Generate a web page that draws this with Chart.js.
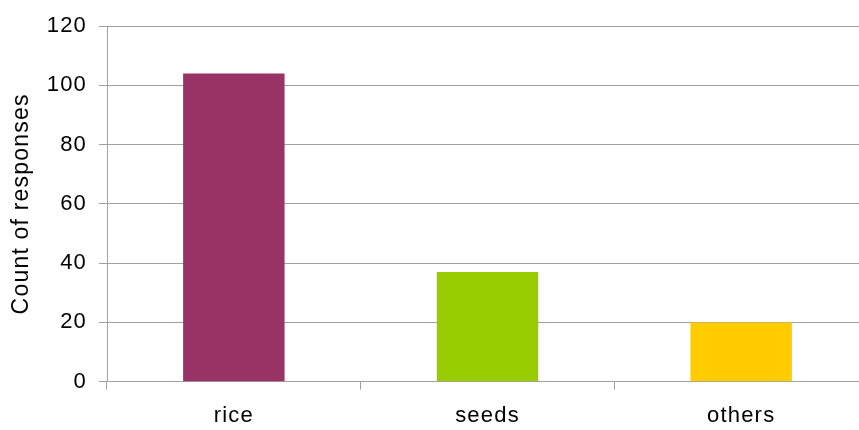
<!DOCTYPE html>
<html>
<head>
<meta charset="utf-8">
<title>Count of responses</title>
<script src="https://cdn.jsdelivr.net/npm/chart.js@4/dist/chart.umd.min.js"></script>
<style>
  html, body { margin: 0; padding: 0; background: #ffffff; overflow: hidden; }
  #wrap { width: 868px; height: 430px; }
</style>
</head>
<body>
<div id="wrap"><canvas id="chart" width="868" height="430"></canvas></div>
<script>
// Chart data
const categories = ['rice', 'seeds', 'others'];
const responseCounts = [104, 37, 20];
const barColors = ['#993366', '#99CC00', '#FFCC00'];
const yTicks = { min: 0, max: 120, step: 20 };
const yTitle = 'Count of responses';

const gridGrey = '#a0a0a0';
const fontFamily = '"Liberation Sans", Arial, sans-serif';

// Slightly widened letter spacing for all canvas text
const spacingPlugin = {
  id: 'letterSpacing',
  beforeUpdate(chart) { chart.ctx.letterSpacing = '1.2px'; },
  beforeLayout(chart) { chart.ctx.letterSpacing = '1.2px'; },
  beforeDraw(chart) { chart.ctx.letterSpacing = '1.2px'; }
};

new Chart(document.getElementById('chart'), {
  type: 'bar',
  data: {
    labels: categories,
    datasets: [{
      data: responseCounts,
      backgroundColor: barColors,
      borderWidth: 0,
      barPercentage: 0.4,
      categoryPercentage: 1.0
    }]
  },
  options: {
    responsive: false,
    animation: false,
    devicePixelRatio: 1,
    layout: { padding: { top: 26, right: 0, bottom: 0, left: 0 } },
    plugins: {
      legend: { display: false },
      tooltip: { enabled: false }
    },
    scales: {
      x: {
        offset: true,
        grid: {
          offset: true,
          drawOnChartArea: false,
          drawTicks: true,
          tickLength: 8,
          color: gridGrey,
          lineWidth: 1
        },
        border: { color: gridGrey, width: 1 },
        ticks: {
          color: '#000000',
          padding: 13,
          font: { family: fontFamily, size: 22 }
        },
        afterFit(scale) { scale.height = 48.3; }
      },
      y: {
        min: yTicks.min,
        max: yTicks.max,
        ticks: {
          stepSize: yTicks.step,
          color: '#000000',
          padding: 12,
          font: { family: fontFamily, size: 22 }
        },
        grid: {
          color: gridGrey,
          lineWidth: 1,
          drawTicks: true,
          tickLength: 8
        },
        border: { color: gridGrey, width: 1 },
        title: {
          display: true,
          text: yTitle,
          color: '#000000',
          padding: { top: 8, bottom: 0 },
          font: { family: fontFamily, size: 23 }
        },
        afterFit(scale) { scale.width = 107; }
      }
    }
  },
  plugins: [spacingPlugin]
});
</script>
</body>
</html>
